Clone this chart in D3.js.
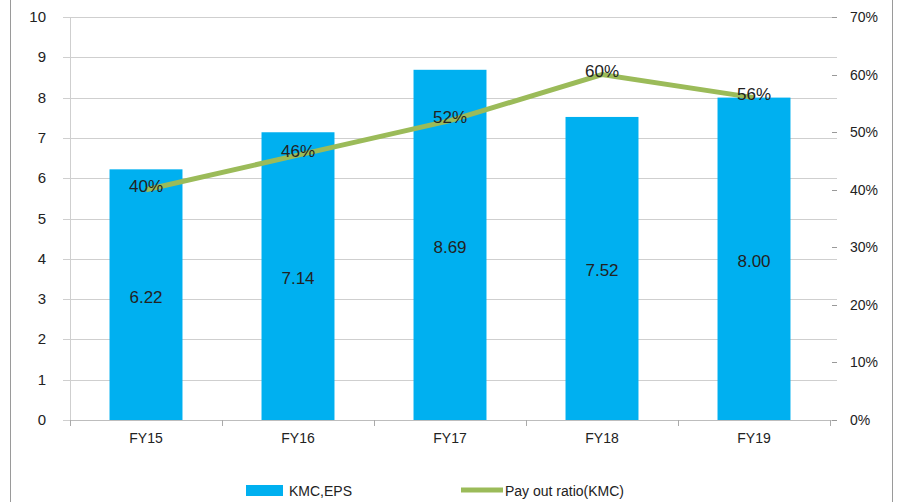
<!DOCTYPE html>
<html lang="en">
<head>
    <meta charset="UTF-8">
    <title>KMC EPS</title>
    <script src="https://d3js.org/d3.v7.min.js"></script>
    <style>
        body { margin: 0; background: #fff; }
        text { font-family: "Liberation Sans", Arial, sans-serif; fill: #222; }
    </style>
</head>
<body>
<svg width="900" height="502"></svg>
<script>
    var categories = ["FY15", "FY16", "FY17", "FY18", "FY19"];
    var eps = [6.22, 7.14, 8.69, 7.52, 8.00];
    var payout = [40, 46, 52, 60, 56];
    var leftTicks = [0, 1, 2, 3, 4, 5, 6, 7, 8, 9, 10];
    var rightTicks = [0, 10, 20, 30, 40, 50, 60, 70];

    var svg = d3.select("svg");
    // plot area edges
    var pLeft = 70, pRight = 830, pTop = 17, pBottom = 420;

    // outer frame
    svg.append("rect")
        .attr("x", 10.5).attr("y", -1)
        .attr("width", 882).attr("height", 520)
        .attr("fill", "none").attr("stroke", "#9a9a9a");

    var x = d3.scaleBand().domain(categories).range([pLeft, pRight]).paddingInner(0).paddingOuter(0);
    var y = d3.scaleLinear().domain([0, 10]).range([pBottom, pTop]);
    var y2 = d3.scaleLinear().domain([0, 70]).range([pBottom, pTop]);

    // gridlines
    svg.selectAll(".grid")
        .data(leftTicks)
        .enter()
        .append("line")
        .attr("class", "grid")
        .attr("x1", pLeft - 7).attr("x2", pRight + 7)
        .attr("y1", function (d) { return Math.round(y(d)) + 0.5 })
        .attr("y2", function (d) { return Math.round(y(d)) + 0.5 })
        .attr("stroke", "#cfcfcf");

    // left axis
    svg.append("line")
        .attr("x1", pLeft + 0.5).attr("x2", pLeft + 0.5)
        .attr("y1", pTop).attr("y2", pBottom + 6)
        .attr("stroke", "#cfcfcf");
    svg.selectAll(".ltick")
        .data(leftTicks)
        .enter()
        .append("text")
        .attr("x", 46).attr("y", function (d) { return y(d) + 5 })
        .attr("text-anchor", "end")
        .attr("font-size", 15)
        .text(function (d) { return d });

    // right axis labels + small ticks
    svg.selectAll(".rtick")
        .data(rightTicks)
        .enter()
        .append("text")
        .attr("x", 850).attr("y", function (d) { return y2(d) + 5 })
        .attr("font-size", 14)
        .attr("fill", "#333")
        .text(function (d) { return d + "%" });
    svg.selectAll(".rdash")
        .data(rightTicks)
        .enter()
        .append("line")
        .attr("x1", pRight + 2).attr("x2", pRight + 7)
        .attr("y1", function (d) { return Math.round(y2(d)) + 0.5 })
        .attr("y2", function (d) { return Math.round(y2(d)) + 0.5 })
        .attr("stroke", "#999");

    // category axis
    svg.append("line")
        .attr("x1", pLeft).attr("x2", pRight)
        .attr("y1", pBottom + 0.5).attr("y2", pBottom + 0.5)
        .attr("stroke", "#bdbdbd");
    svg.selectAll(".ctick")
        .data(categories.concat(["end"]))
        .enter()
        .append("line")
        .attr("x1", function (d, i) { return Math.round(pLeft + i * x.bandwidth()) + 0.5 })
        .attr("x2", function (d, i) { return Math.round(pLeft + i * x.bandwidth()) + 0.5 })
        .attr("y1", pBottom).attr("y2", pBottom + 6)
        .attr("stroke", "#aaa");
    svg.selectAll(".clabel")
        .data(categories)
        .enter()
        .append("text")
        .attr("x", function (d) { return x(d) + x.bandwidth() / 2 })
        .attr("y", 443)
        .attr("text-anchor", "middle")
        .attr("font-size", 14)
        .text(function (d) { return d });

    // bars
    var bw = x.bandwidth() * 0.48;
    svg.selectAll(".bar")
        .data(eps)
        .enter()
        .append("rect")
        .attr("class", "bar")
        .attr("x", function (d, i) { return x(categories[i]) + (x.bandwidth() - bw) / 2 })
        .attr("y", function (d) { return y(d) })
        .attr("width", bw)
        .attr("height", function (d) { return pBottom - y(d) })
        .attr("fill", "#00b0f0");
    svg.selectAll(".barlabel")
        .data(eps)
        .enter()
        .append("text")
        .attr("x", function (d, i) { return x(categories[i]) + x.bandwidth() / 2 })
        .attr("y", function (d) { return (y(d) + pBottom) / 2 + 8 })
        .attr("text-anchor", "middle")
        .attr("font-size", 17)
        .text(function (d) { return d.toFixed(2) });

    // payout line
    var line = d3.line()
        .x(function (d, i) { return x(categories[i]) + x.bandwidth() / 2 })
        .y(function (d) { return y2(d) });
    svg.append("path")
        .datum(payout)
        .attr("d", line)
        .attr("fill", "none")
        .attr("stroke", "#9bbb59")
        .attr("stroke-width", 5);
    svg.selectAll(".plabel")
        .data(payout)
        .enter()
        .append("text")
        .attr("x", function (d, i) { return x(categories[i]) + x.bandwidth() / 2 })
        .attr("y", function (d) { return y2(d) + 2 })
        .attr("text-anchor", "middle")
        .attr("font-size", 17)
        .text(function (d) { return d + "%" });

    // legend
    svg.append("rect")
        .attr("x", 246).attr("y", 485).attr("width", 37).attr("height", 11)
        .attr("fill", "#00b0f0");
    svg.append("text")
        .attr("x", 289).attr("y", 496).attr("font-size", 14)
        .text("KMC,EPS");
    svg.append("line")
        .attr("x1", 461).attr("x2", 503).attr("y1", 490).attr("y2", 490)
        .attr("stroke", "#9bbb59").attr("stroke-width", 5);
    svg.append("text")
        .attr("x", 505).attr("y", 496).attr("font-size", 14)
        .text("Pay out ratio(KMC)");
</script>
</body>
</html>
